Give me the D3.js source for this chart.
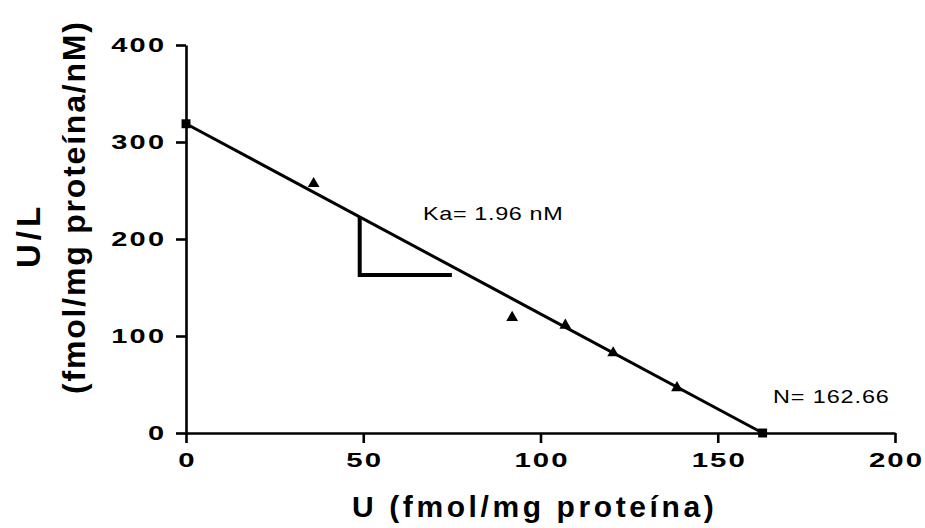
<!DOCTYPE html>
<html>
<head>
<meta charset="utf-8">
<script src="https://cdn.jsdelivr.net/npm/d3@7"></script>
<style>
  html, body { margin: 0; padding: 0; background: #fff; }
  svg { display: block; }
  text { font-family: "Liberation Sans", Arial, Helvetica, sans-serif; fill: #000; }
</style>
</head>
<body>
<svg id="chart" width="925" height="528"></svg>
<script>
// Scatchard plot: bound ligand U vs. bound/free U/L
const xTicks = [0, 50, 100, 150, 200];
const yTicks = [0, 100, 200, 300, 400];

// measured binding points (triangles)
const boundU    = [36, 92, 107, 120.5, 138.5];
const boundOverFree = [257, 119, 111, 82.5, 46.5];

// fitted parameters
const Ka = 1.96;       // nM
const Nmax = 162.66;   // fmol/mg proteína
const intercept = Ka * Nmax;

// fitted line end points (squares): y-intercept and x-intercept
const fitU = [0, Nmax];
const fitUL = [intercept, 0];

// slope guide: vertical drop from the line, then horizontal run
const guideU  = [49, 49, 75];
const guideUL = [intercept - Ka * 49, 163, 163];

const kaLabel = "Ka= 1.96 nM";
const nLabel = "N= 162.66";
const xTitle = "U (fmol/mg proteína)";
const yTitle1 = "U/L";
const yTitle2 = "(fmol/mg proteína/nM)";

const svg = d3.select("#chart");

const x = d3.scaleLinear().domain([0, 200]).range([186, 895]);
const y = d3.scaleLinear().domain([0, 400]).range([433, 45]);

const STRETCH = 1.3;

// axes
const gx = svg.append("g")
  .attr("transform", `translate(0,${y(0)})`)
  .call(d3.axisBottom(x).tickValues(xTicks).tickFormat(d3.format("d"))
    .tickSize(10).tickSizeOuter(0).tickPadding(9));

const gy = svg.append("g")
  .attr("transform", `translate(${x(0)},0)`)
  .call(d3.axisLeft(y).tickValues(yTicks).tickFormat(d3.format("d"))
    .tickSize(10).tickSizeOuter(0).tickPadding(12));

function styleAxis(g, size, stretch, spacing) {
  g.selectAll(".domain").attr("stroke", "#000").attr("stroke-width", 2.6);
  g.selectAll(".tick line").attr("stroke", "#000").attr("stroke-width", 2.6);
  g.selectAll(".tick text")
    .attr("font-size", size)
    .attr("font-weight", "bold")
    .attr("font-family", "'Liberation Sans', Arial, sans-serif")
    .attr("letter-spacing", spacing)
    .each(function () {
      const t = d3.select(this);
      const tx = +t.attr("x") || 0;
      t.attr("x", 0).attr("transform", `translate(${tx},0) scale(${stretch},1)`);
    });
}
styleAxis(gx, 21, 1.4, 1.5);
styleAxis(gy, 20, 1.45, 1.5);
gy.selectAll(".tick text").attr("dx", 1.5);
gx.selectAll(".tick text").attr("dx", 0.75);

// fitted line
const line = d3.line().x(d => x(d[0])).y(d => y(d[1]));
svg.append("path")
  .datum(d3.zip(fitU, fitUL))
  .attr("d", line)
  .attr("fill", "none")
  .attr("stroke", "#000")
  .attr("stroke-width", 3);

// slope guide
svg.append("path")
  .datum(d3.zip(guideU, guideUL))
  .attr("d", line)
  .attr("fill", "none")
  .attr("stroke", "#000")
  .attr("stroke-width", 4)
  .attr("stroke-linejoin", "miter");

// end-point squares
svg.selectAll(".sq")
  .data(d3.zip(fitU, fitUL))
  .join("path")
  .attr("class", "sq")
  .attr("transform", d => `translate(${x(d[0])},${y(d[1])})`)
  .attr("d", d3.symbol(d3.symbolSquare, 80))
  .attr("fill", "#000");

// data triangles
svg.selectAll(".tri")
  .data(d3.zip(boundU, boundOverFree))
  .join("path")
  .attr("class", "tri")
  .attr("transform", d => `translate(${x(d[0])},${y(d[1])})`)
  .attr("d", d3.symbol(d3.symbolTriangle, 60))
  .attr("fill", "#000");

// annotations
svg.append("text")
  .attr("transform", `translate(423,220) scale(${STRETCH},1)`)
  .attr("font-size", 18)
  .attr("letter-spacing", 0.5)
  .text(kaLabel);

svg.append("text")
  .attr("transform", `translate(773,403) scale(${STRETCH},1)`)
  .attr("font-size", 18)
  .attr("letter-spacing", 0.7)
  .text(nLabel);

// axis titles
svg.append("text")
  .attr("x", 352).attr("y", 517)
  .attr("font-size", 30)
  .attr("font-weight", "bold")
  .attr("letter-spacing", 3.6)
  .text(xTitle);

svg.append("text")
  .attr("transform", "translate(40,268) rotate(-90)")
  .attr("font-size", 33)
  .attr("font-weight", "bold")
  .attr("letter-spacing", 4)
  .text(yTitle1);

svg.append("text")
  .attr("transform", "translate(85,394) rotate(-90)")
  .attr("font-size", 32)
  .attr("font-weight", "bold")
  .attr("letter-spacing", 1.8)
  .text(yTitle2);
</script>
</body>
</html>
